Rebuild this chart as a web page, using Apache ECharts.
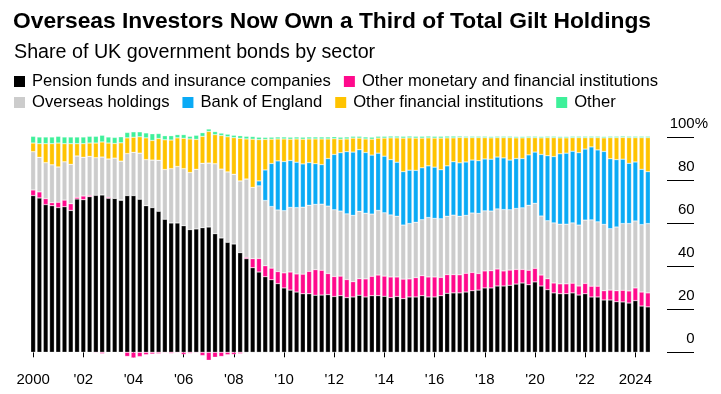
<!DOCTYPE html>
<html>
<head>
<meta charset="utf-8">
<script src="https://cdn.jsdelivr.net/npm/echarts@6/dist/echarts.min.js"></script>
<style>
html,body{margin:0;padding:0;background:#fff;}
#chart{width:721px;height:394px;}
</style>
</head>
<body>
<div id="chart"></div>
<script>
// Quarterly categories 2000 Q1 .. 2024 Q3 (99 bars)
const categories = [];
for (let y = 2000; y <= 2024; y++) {
  for (let q = 1; q <= 4; q++) {
    if (categories.length < 99) categories.push(y + ' Q' + q);
  }
}
const tickLabels = ['2000', "'02", "'04", "'06", "'08", "'10", "'12", "'14", "'16", "'18", "'20", "'22", '2024'];

const pension = [72.8,71.7,68.6,68.1,67.2,67.6,65.9,71.2,70.9,72.3,72.9,73.1,71.5,71.5,70.6,72.8,72.8,71.1,68.1,67.2,
65.5,61.8,60.1,60.1,58.8,57.0,57.3,57.9,58.2,55.1,53.1,51.1,50.3,46.3,43.5,39.3,37.3,35.1,33.7,31.9,
29.9,28.9,28.0,27.2,27.2,26.5,26.6,26.8,25.9,26.3,25.4,25.7,26.5,25.7,26.3,26.3,26.0,25.4,25.9,24.9,
25.7,25.7,26.3,25.7,25.7,26.3,27.4,27.6,27.6,28.0,28.6,28.9,29.9,29.9,30.8,30.8,31.1,31.7,32.2,31.4,
32.7,30.8,29.1,27.6,27.2,27.2,27.6,26.6,27.2,25.7,25.7,24.3,24.3,23.5,23.4,22.9,24.0,21.5,21.1];

const otherMonetary = [2.6,2.8,2.8,1.4,2.5,3.1,3.1,0.8,1.7,0.6,-0.3,-0.6,0.5,0.0,0.2,-1.9,-2.6,-2.0,-1.1,-0.8,
-0.6,-0.3,-0.5,-0.3,-1.0,-0.5,-0.3,-1.5,-3.7,-2.3,-1.9,-1.1,-1.0,-0.6,0.6,4.2,6.3,5.1,5.4,5.6,
7.0,8.4,8.4,9.1,10.4,11.9,11.5,9.8,9.3,9.1,8.4,7.1,7.7,8.4,9.0,9.6,9.4,9.6,9.1,9.1,
8.4,9.0,9.3,9.3,9.3,8.5,8.7,8.5,8.4,8.7,8.5,7.7,7.9,8.0,7.9,7.0,7.1,6.8,6.3,6.7,
6.3,5.1,5.1,4.6,4.6,4.6,4.5,4.2,4.8,5.0,5.0,4.3,4.6,5.1,5.4,5.6,5.9,6.5,6.5];

const overseas = [17.8,16.1,16.7,17.6,16.4,17.8,18.3,19.2,18.0,18.1,17.5,17.6,17.8,18.7,18.0,19.5,20.1,21.4,21.4,22.1,
23.7,23.1,25.2,26.2,26.5,26.5,27.7,29.9,29.7,32.5,32.0,32.7,32.4,33.3,36.4,33.1,33.7,30.3,28.6,28.6,
28.9,30.0,30.8,31.1,30.7,30.3,30.7,31.3,31.0,30.2,30.5,30.8,31.3,30.5,28.9,30.0,29.4,28.8,28.2,25.1,
25.7,25.7,26.0,27.6,27.2,27.2,27.1,27.6,27.2,26.9,27.6,27.9,27.9,27.7,27.9,28.5,28.0,28.3,28.6,30.2,
30.2,27.4,26.9,27.9,27.7,27.7,28.0,28.3,29.4,30.8,29.9,30.8,28.5,29.6,31.0,31.3,31.1,31.3,32.2];

const bankOfEngland = [0,0,0,0,0,0,0,0,0,0,0,0,0,0,0,0,0,0,0,0,
0,0,0,0,0,0,0,0,0,0,0,0,0,0,0,0,2.3,14.2,20.0,22.8,
22.8,21.8,21.1,20.1,19.8,18.9,18.4,22.1,25.7,27.1,28.9,29.4,28.6,28.2,27.4,26.6,26.3,25.7,25.1,24.8,
24.8,24.1,24.1,24.0,23.8,22.8,23.4,24.8,24.8,24.8,24.6,24.5,24.1,24.1,24.1,24.0,23.1,23.2,22.9,23.4,
23.8,28.6,30.2,30.8,32.7,33.0,33.3,33.6,33.0,33.9,33.4,33.9,32.5,31.3,29.9,28.0,27.4,25.7,24.1];

const otherFinancial = [4.0,6.3,8.8,9.8,11.1,8.4,9.6,5.7,6.3,6.2,6.8,7.0,7.4,6.8,8.5,7.3,7.0,7.6,10.1,9.1,
10.1,13.8,13.3,13.3,14.1,15.6,13.9,12.5,14.7,13.5,15.6,16.3,17.0,19.8,18.6,22.4,19.2,14.2,11.3,10.2,
10.5,9.9,10.8,11.5,11.0,11.5,11.9,9.1,7.3,6.3,5.9,6.5,5.4,6.3,7.4,7.0,8.4,10.1,11.3,15.6,
15.0,15.0,13.8,13.0,13.5,14.7,13.0,11.1,11.8,11.3,10.4,10.7,9.9,9.9,9.0,9.4,10.4,9.6,9.6,8.0,
6.7,7.7,8.4,8.8,7.4,7.1,6.3,7.0,5.3,4.3,5.7,6.3,9.8,10.2,10.1,11.9,11.3,14.7,15.8];

const other = [3.1,3.1,3.1,3.1,3.1,3.1,3.1,3.1,3.1,3.1,3.1,3.1,2.8,2.8,2.8,2.5,2.5,2.3,2.3,3.1,
2.3,1.9,2.0,1.5,1.7,1.2,1.9,1.7,1.1,1.4,1.1,1.2,1.1,1.2,1.2,1.2,1.1,0.9,0.9,0.9,
0.9,0.9,0.9,0.9,0.9,0.9,0.9,0.9,0.9,0.9,0.9,0.8,0.8,0.9,0.9,0.8,0.8,0.8,0.8,0.8,
0.8,0.8,0.8,0.8,0.8,0.8,0.8,0.8,0.6,0.6,0.6,0.6,0.6,0.6,0.6,0.6,0.6,0.6,0.6,0.6,
0.6,0.6,0.6,0.6,0.6,0.6,0.6,0.6,0.6,0.6,0.6,0.6,0.6,0.6,0.6,0.6,0.6,0.6,0.6];

const seriesNames = ['Pension funds and insurance companies', 'Other monetary and financial institutions',
  'Overseas holdings', 'Bank of England', 'Other financial institutions', 'Other'];
const seriesData = [pension, otherMonetary, overseas, bankOfEngland, otherFinancial, other];
const colors = ['#000000', '#ff0a8c', '#cccccc', '#0aaaf5', '#ffc300', '#3ef09a'];

const FONT = '"Liberation Sans", Arial, Helvetica, sans-serif';
const chart = echarts.init(document.getElementById('chart'), null, {renderer: 'canvas'});

const legendCommon = {
  left: 9, icon: 'rect', itemWidth: 11, itemHeight: 11, itemGap: 13,
  selectedMode: false,
  itemStyle: {borderWidth: 0},
  textStyle: {fontFamily: FONT, fontSize: 16.6, color: '#000', padding: [0, 0, 0, 2]}
};

chart.setOption({
  animation: false,
  backgroundColor: '#fff',
  color: colors,
  title: [
    {text: 'Overseas Investors Now Own a Third of Total Gilt Holdings', left: 8, top: 5,
     textStyle: {fontFamily: FONT, fontSize: 22.8, fontWeight: 'bold', color: '#000'}},
    {text: 'Share of UK government bonds by sector', left: 9, top: 38,
     textStyle: {fontFamily: FONT, fontSize: 19.7, fontWeight: 'normal', color: '#000'}}
  ],
  legend: [
    Object.assign({}, legendCommon, {top: 68, data: [seriesNames[0], seriesNames[1]]}),
    Object.assign({}, legendCommon, {top: 89, data: [seriesNames[2], seriesNames[3], seriesNames[4], seriesNames[5]]})
  ],
  grid: {left: 30, right: 70, top: 137, bottom: 41.7, containLabel: false},
  xAxis: {
    type: 'category',
    data: categories,
    axisLine: {show: false},
    axisTick: {show: true, alignWithLabel: true, length: 5, interval: (i) => i % 8 === 0,
      lineStyle: {color: '#000', width: 1}},
    axisLabel: {interval: (i) => i % 8 === 0, formatter: (v, i) => tickLabels[Math.round(i / 8)],
      fontFamily: FONT, fontSize: 15, color: '#000', margin: 20},
    splitLine: {show: false}
  },
  yAxis: {
    type: 'value', min: 0, max: 100, interval: 20, position: 'right', offset: 16,
    axisLine: {show: false},
    axisTick: {show: true, length: 27, lineStyle: {color: '#000', width: 1}},
    splitLine: {show: false},
    axisLabel: {
      margin: 41, align: 'right', verticalAlign: 'bottom', padding: [0, 0, 6, 0],
      fontFamily: FONT, fontSize: 15, color: '#000',
      formatter: (v) => v === 100 ? '{n|' + v + '}{p|%}' : '{n|' + v + '}{h|%}',
      rich: {
        n: {fontFamily: FONT, fontSize: 15, color: '#000'},
        p: {fontFamily: FONT, fontSize: 15, color: '#000'},
        h: {fontFamily: FONT, fontSize: 15, color: 'rgba(0,0,0,0)'}
      }
    }
  },
  series: seriesNames.map((name, k) => ({
    name: name,
    type: 'bar',
    stack: 'total',
    barCategoryGap: '24%',
    clip: false,
    data: seriesData[k],
    itemStyle: {color: colors[k], borderColor: 'rgba(255,255,255,0.55)', borderWidth: 0.5},
    emphasis: {disabled: true}
  }))
});
</script>
</body>
</html>
